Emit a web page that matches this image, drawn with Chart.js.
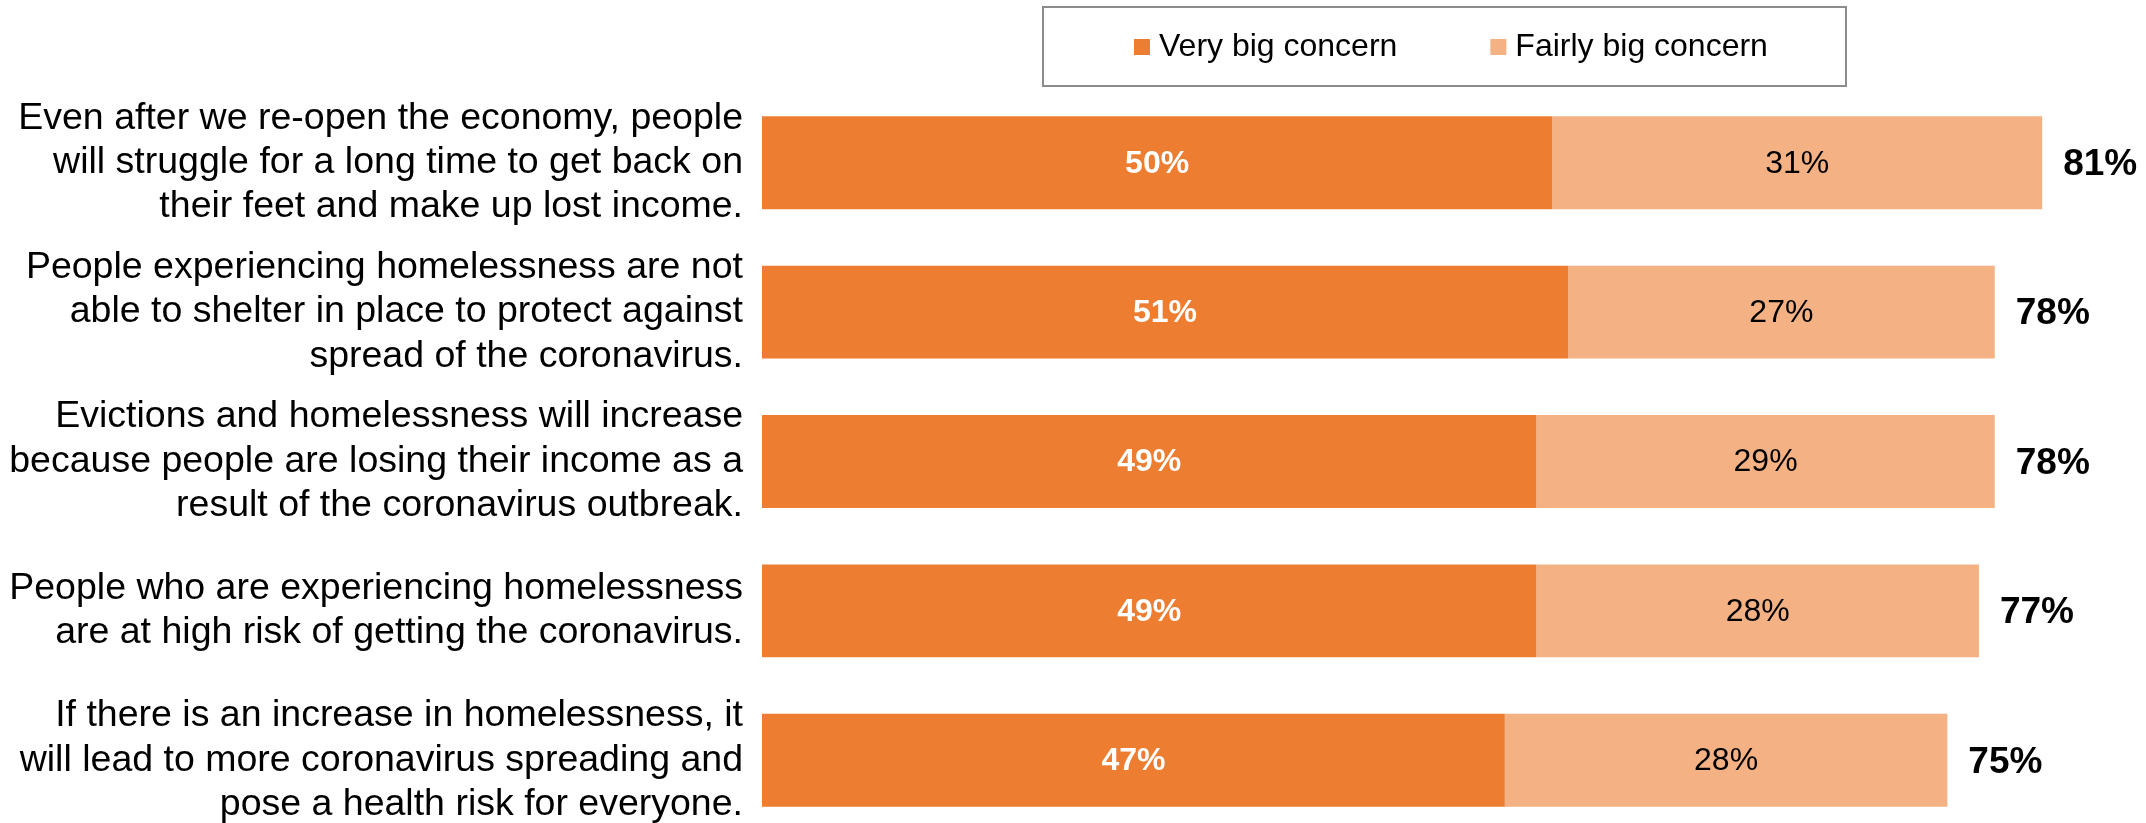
<!DOCTYPE html>
<html>
<head>
<meta charset="utf-8">
<script src="https://cdn.jsdelivr.net/npm/chart.js@4"></script>
<style>
  html, body { margin: 0; padding: 0; background: #fff; overflow: hidden; }
</style>
</head>
<body>
<canvas id="concernChart" width="2146" height="835"></canvas>
<script>
const categories = [
    ['Even after we re-open the economy, people', 'will struggle for a long time to get back on', 'their feet and make up lost income.'],
    ['People experiencing homelessness are not', 'able to shelter in place to protect against', 'spread of the coronavirus.'],
    ['Evictions and homelessness will increase', 'because people are losing their income as a', 'result of the coronavirus outbreak.'],
    ['People who are experiencing homelessness', 'are at high risk of getting the coronavirus.'],
    ['If there is an increase in homelessness, it', 'will lead to more coronavirus spreading and', 'pose a health risk for everyone.']
];
const veryBig = [50, 51, 49, 49, 47];
const fairlyBig = [31, 27, 29, 28, 28];
const totals = [81, 78, 78, 77, 75];

const FONT = '"Liberation Sans", Arial, sans-serif';

// draws the % inside each bar and the bold total after it
const barLabels = {
    id: 'barLabels',
    afterDatasetsDraw(chart) {
        const ctx = chart.ctx;
        ctx.save();
        ctx.textAlign = 'center';
        ctx.textBaseline = 'middle';
        chart.data.datasets.forEach((ds, di) => {
            const meta = chart.getDatasetMeta(di);
            ctx.font = (di === 0 ? 'bold ' : '') + '32px ' + FONT;
            ctx.fillStyle = di === 0 ? '#ffffff' : '#000000';
            meta.data.forEach((bar, i) => {
                ctx.fillText(ds.data[i] + '%', (bar.x + bar.base) / 2, bar.y + 1);
            });
        });
        const last = chart.getDatasetMeta(chart.data.datasets.length - 1);
        ctx.textAlign = 'left';
        ctx.font = 'bold 37px ' + FONT;
        ctx.fillStyle = '#000000';
        last.data.forEach((bar, i) => {
            ctx.fillText(totals[i] + '%', bar.x + 21, bar.y + 2);
        });
        ctx.restore();
    }
};

// legend inside a grey box, like the original
const boxLegend = {
    id: 'boxLegend',
    afterDraw(chart) {
        const ctx = chart.ctx;
        ctx.save();
        ctx.strokeStyle = '#8c8c8c';
        ctx.lineWidth = 2;
        ctx.strokeRect(1043, 7, 803, 79);
        ctx.font = '32px ' + FONT;
        ctx.textBaseline = 'middle';
        ctx.textAlign = 'left';
        let x = 1134;
        chart.data.datasets.forEach((ds, i) => {
            ctx.fillStyle = ds.backgroundColor;
            ctx.fillRect(x, 39, 16, 16);
            ctx.fillStyle = '#000000';
            ctx.fillText(ds.label, x + 25, 47);
            x += 25 + ctx.measureText(ds.label).width + 93;
        });
        ctx.restore();
    }
};

const concernChart = new Chart(document.getElementById('concernChart'), {
    type: 'bar',
    data: {
        labels: categories,
        datasets: [
            {
                label: 'Very big concern',
                data: veryBig,
                backgroundColor: '#ED7D31',
                barPercentage: 1,
                categoryPercentage: 0.622
            },
            {
                label: 'Fairly big concern',
                data: fairlyBig,
                backgroundColor: '#F4B183',
                barPercentage: 1,
                categoryPercentage: 0.622
            }
        ]
    },
    options: {
        indexAxis: 'y',
        responsive: false,
        devicePixelRatio: 1,
        animation: false,
        layout: { padding: { top: 88, right: 9, left: 0, bottom: 0 } },
        plugins: {
            legend: { display: false },
            tooltip: { enabled: false }
        },
        scales: {
            x: {
                stacked: true,
                min: 0,
                max: 87,
                display: false
            },
            y: {
                stacked: true,
                grid: { display: false, drawTicks: false },
                border: { display: false },
                ticks: {
                    padding: 19,
                    color: '#000000',
                    font: { family: FONT, size: 37.5, lineHeight: 1.185 }
                },
                afterFit(scale) {
                    scale.width = 762;
                    scale.paddingTop = 0;
                    scale.paddingBottom = 0;
                }
            }
        }
    },
    plugins: [barLabels, boxLegend]
});
</script>
</body>
</html>
